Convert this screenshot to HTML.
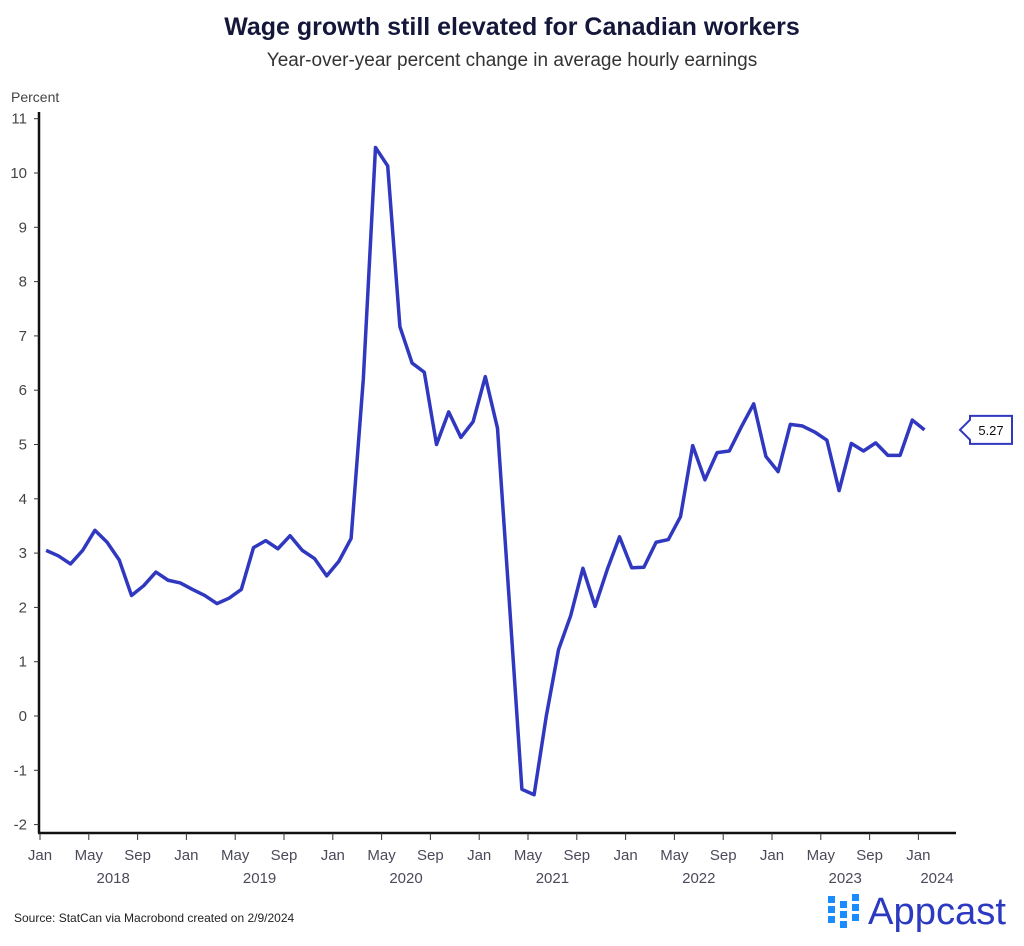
<!DOCTYPE html>
<html><head><meta charset="utf-8"><style>
body{margin:0;background:#fff;font-family:"Liberation Sans",sans-serif}
svg text{font-family:"Liberation Sans",sans-serif}
</style></head><body>
<svg width="1024" height="941" viewBox="0 0 1024 941">
<text x="512" y="35" text-anchor="middle" font-size="25" font-weight="bold" fill="#15173a">Wage growth still elevated for Canadian workers</text>
<text x="512" y="66" text-anchor="middle" font-size="19" fill="#333">Year-over-year percent change in average hourly earnings</text>
<text x="11" y="102" font-size="14" fill="#444">Percent</text>
<g id="axes"></g>
<g id="series"></g>
<text x="14" y="922" font-size="12" fill="#222">Source: StatCan via Macrobond created on 2/9/2024</text>
<g>
<g fill="#1a8cff">
<rect x="828" y="896" width="7" height="7"/><rect x="828" y="906" width="7" height="7"/><rect x="828" y="916" width="7" height="7"/>
<rect x="840" y="901" width="7" height="7"/><rect x="840" y="911" width="7" height="7"/><rect x="840" y="921" width="7" height="7"/>
<rect x="852" y="894" width="7" height="7"/><rect x="852" y="904" width="7" height="7"/><rect x="852" y="914" width="7" height="7"/>
</g>
<text x="868" y="924" font-size="38" fill="#2b3ac0" textLength="138" lengthAdjust="spacingAndGlyphs">Appcast</text>
</g>
</svg>
<script>
const values=[3.05,2.95,2.8,3.05,3.42,3.2,2.87,2.22,2.4,2.65,2.5,2.45,2.33,2.22,2.07,2.17,2.33,3.1,3.23,3.08,3.32,3.05,2.9,2.58,2.85,3.27,6.2,10.47,10.13,7.17,6.5,6.33,5.0,5.6,5.13,5.42,6.25,5.3,2.0,-1.35,-1.45,0.0,1.22,1.85,2.72,2.02,2.7,3.3,2.73,2.74,3.2,3.25,3.67,4.98,4.35,4.85,4.88,5.33,5.75,4.78,4.5,5.37,5.34,5.23,5.08,4.15,5.02,4.88,5.03,4.8,4.8,5.45,5.27];
const yTicks=[-2,-1,0,1,2,3,4,5,6,7,8,9,10,11];
const monthLabels=["Jan","May","Sep"];
const years=["2018","2019","2020","2021","2022","2023","2024"];
const lastLabel="5.27";
const NS="http://www.w3.org/2000/svg";
const x0=40,mw=12.2,yZero=716,yu=54.3;
const X=i=>x0+mw*(i+0.5);
const XT=m=>x0+mw*m;
const Y=v=>yZero-v*yu;
function mk(tag,attrs,parent){const e=document.createElementNS(NS,tag);for(const k in attrs)e.setAttribute(k,attrs[k]);parent.appendChild(e);return e;}
const ax=document.getElementById('axes');
const yl=mk('line',{x1:39,y1:112,x2:39,y2:833,stroke:'#111','stroke-width':2.5},ax);


const xl=mk('line',{x1:38,y1:833,x2:956,y2:833,stroke:'#111','stroke-width':2.5},ax);


yTicks.forEach(v=>{
 const y=Y(v);
 mk('line',{x1:34,y1:y,x2:39,y2:y,stroke:'#333'},ax);
 const t=mk('text',{x:27,y:y+5,'text-anchor':'end','font-size':15,fill:'#444'},ax);
 t.textContent=v;
 
 
});
for(let m=0;m<=72;m+=4){
 const x=XT(m);
 mk('line',{x1:x,y1:833,x2:x,y2:840,stroke:'#333'},ax);
 const t=mk('text',{x:x,y:860,'text-anchor':'middle','font-size':15,fill:'#4a4a5a'},ax);
 t.textContent=monthLabels[(m/4)%3];
 
 
}
years.forEach((yr,k)=>{
 const x=k<6?XT(k*12+6):937;
 const t=mk('text',{x:x,y:883,'text-anchor':'middle','font-size':15,fill:'#4a4a5a'},ax);
 t.textContent=yr;
 
 
});
const sg=document.getElementById('series');
const p=mk('polyline',{points:values.map((v,i)=>X(i)+','+Y(v)).join(' '),fill:'none',stroke:'#3038c0','stroke-width':3.5,'stroke-linejoin':'round'},sg);


const ly=Y(values[values.length-1]);
const box=mk('path',{d:`M960 ${ly} L970 ${ly-10} L970 ${ly-14} L1012 ${ly-14} L1012 ${ly+14} L970 ${ly+14} L970 ${ly+10} Z`,fill:'#fff',stroke:'#3038c0','stroke-width':2},sg);


const lt=mk('text',{x:991,y:ly+5,'text-anchor':'middle','font-size':13,fill:'#111'},sg);
lt.textContent=lastLabel;


</script>
</body></html>
